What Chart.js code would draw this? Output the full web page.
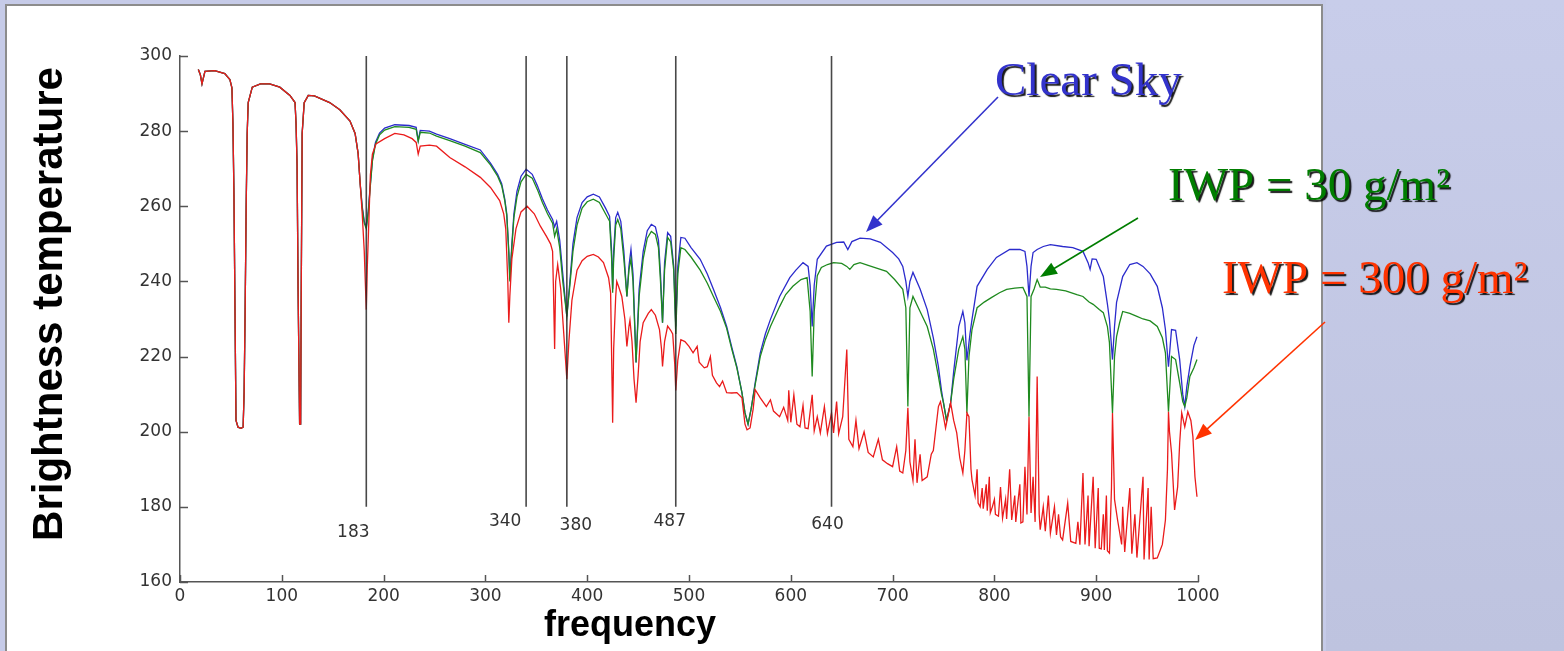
<!DOCTYPE html>
<html>
<head>
<meta charset="utf-8">
<script src="https://cdn.jsdelivr.net/npm/chart.js@4/dist/chart.umd.min.js"></script>
<style>
  html, body { margin: 0; padding: 0; }
  body { width: 1564px; height: 651px; background: #c6cbe8; position: relative; overflow: hidden; }
  #side { position: absolute; left: 1326px; top: 0; width: 238px; height: 651px;
          background: linear-gradient(#c8cdea, #bec3df); }
  #panel { position: absolute; left: 5px; top: 4px; width: 1318px; height: 660px;
           background: #fff; border: 2px solid #8c8c8c; box-sizing: border-box; }
  #chart { position: absolute; left: 0; top: 0; }
</style>
</head>
<body>
<div id="side"></div>
<div id="panel"></div>
<canvas id="chart" width="1564" height="651"></canvas>
<script>
// part of the spectrum where all three curves lie on top of each other
const sharedFreq = [18, 20, 21.6, 24.5, 34, 44, 49, 51, 52, 53, 54, 55, 57, 60, 62, 63, 64, 65, 66, 67, 71, 79, 88, 98,
  108, 113, 114, 115, 116, 117.5, 118.5, 119, 120, 122, 126, 132, 147, 157, 167, 172, 175, 177];
const sharedTb = [296.4, 295, 292.6, 295.9, 296.1, 295.3, 293.7, 291.5, 282, 263, 233, 203, 201.2, 200.9, 201.2, 210.6, 232.6, 260, 279.4, 287.6, 291.7, 292.6, 292.6, 291.7,
  289.5, 287.6, 282, 271, 238, 202, 202, 232.6, 279.4, 287.6, 289.5, 289.4, 287.6, 285.7, 282.7, 279.4, 274, 266];

// clear sky
const clearFreq = [179, 181, 183, 185, 187, 189, 192, 196, 201, 211, 225, 232, 234, 236, 245, 252, 265, 280, 295, 305,
  312, 316, 319, 321, 323, 324, 326, 328, 331, 335, 340, 346, 351, 356, 361, 366, 368, 370, 373, 376,
  380, 383, 386, 390, 395, 400, 406, 412, 418, 422, 424, 425, 426, 428, 430, 433, 436, 439, 441, 443,
  445, 448, 451, 455, 459, 463, 467, 470, 472, 474, 476, 479, 482, 485, 487, 489, 492, 496, 502, 511,
  518, 524, 531, 537, 542, 547, 552, 555, 558, 561, 565, 570, 575, 580, 589, 599, 605, 612, 617, 619,
  621, 623, 626, 635, 645, 652, 656, 660, 668, 678, 688, 700, 706, 710, 713, 715, 717, 720, 727, 734,
  740, 745, 748, 750, 753, 757, 760, 765, 769, 771, 773, 776, 778, 783, 793, 802, 815, 825, 830, 832,
  834, 836, 838, 842, 848, 855, 867, 877, 887, 892, 894, 896, 900, 907, 911, 913, 916, 918, 920, 926,
  933, 940, 946, 953, 960, 965, 968, 971, 974, 978, 982, 985, 987, 989, 992, 996, 999];
const clearTb = [260, 256, 254.5, 259, 266, 272.5, 277, 279.5, 280.8, 281.7, 281.5, 281, 277.5, 280.2, 280, 279.2, 278, 276.5, 275, 271.5,
  268.5, 266, 262, 258, 248, 240.5, 250, 258, 264, 268, 269.9, 268.5, 265.5, 262, 259, 256.5, 254.5, 256, 251, 242,
  230.7, 240, 250, 257, 261, 262.5, 263.2, 262.5, 259.5, 257.3, 248, 238, 248, 257, 258.4, 256, 248, 236, 244, 248.5,
  242, 218.4, 238, 248, 253.5, 255.2, 254.5, 251, 242, 229, 245, 253, 252, 244, 228, 244, 251.7, 251.5, 249, 245.9,
  242, 237.9, 233, 228, 222.5, 217.3, 210.4, 205, 202, 206, 213, 221, 226, 229.9, 236, 241, 243, 245, 244, 239,
  228, 239, 245.9, 249.4, 250.4, 250.5, 248.5, 250.6, 251.5, 251.3, 250.4, 247.7, 246, 244, 240, 236, 240, 242.4, 238, 232.5,
  225, 217.3, 211, 207.7, 203, 207.7, 216, 228, 232, 229, 219, 226, 229.9, 238.7, 243.2, 246.4, 248.5, 248.5, 248, 244,
  236, 244, 247.7, 248.5, 249.3, 249.8, 249.3, 249, 248, 245, 243.2, 246, 245.9, 241.3, 234, 229.9, 219.2, 228, 234.4, 241.3,
  244.5, 245, 244, 242, 238.7, 233, 227.2, 217.3, 227.2, 227, 219.2, 210, 206.7, 212, 217.3, 223, 225.3];

// IWP = 30 g/m2
const iwp30Freq = [179, 181, 183, 185, 187, 189, 192, 196, 201, 211, 225, 232, 234, 236, 245, 252, 265, 280, 295, 305,
  312, 316, 319, 321, 323, 324, 326, 328, 331, 335, 340, 346, 351, 356, 361, 366, 368, 370, 373, 376,
  380, 383, 386, 390, 395, 400, 406, 412, 418, 422, 424, 425, 426, 428, 430, 433, 436, 439, 441, 443,
  445, 448, 451, 455, 459, 463, 467, 470, 472, 474, 476, 479, 482, 485, 487, 489, 492, 496, 502, 511,
  518, 524, 531, 537, 542, 547, 552, 555, 558, 561, 565, 570, 575, 580, 589, 595, 602, 610, 616, 619,
  621, 623, 626, 630, 636, 642, 650, 655, 658, 662, 668, 676, 685, 694, 702, 710, 713, 715, 717, 720,
  727, 734, 740, 745, 748, 750, 753, 757, 760, 765, 769, 771, 773, 775, 778, 783, 790, 797, 805, 812,
  820, 828, 832, 834, 836, 839, 842, 845, 850, 855, 861, 870, 881, 887, 893, 897, 903, 907, 911, 913,
  916, 918, 920, 923, 926, 933, 940, 946, 953, 960, 965, 968, 971, 974, 978, 982, 985, 987, 989, 992,
  996, 999];
const iwp30Tb = [259.5, 255.5, 254, 258.5, 265.5, 272, 276.5, 279, 280.3, 281.2, 281, 280.5, 277.3, 279.7, 279.5, 278.7, 277.5, 276, 274.3, 271,
  268, 265.5, 261.5, 257.5, 247.5, 240, 249, 257, 262.5, 266.5, 268.5, 267.5, 264.5, 261, 258, 255.5, 252, 254, 249, 240,
  230.7, 239, 248, 255, 259.5, 261.2, 261.9, 261, 258, 256, 246, 237, 246, 255, 256.5, 254, 246, 236, 243, 246,
  240, 218.4, 236, 246, 251.5, 253.3, 252.5, 249, 240, 229, 243, 251.7, 250.5, 243, 226, 242, 249, 248.5, 246.5, 243,
  239.5, 236, 232, 227.5, 222, 217, 210.4, 205, 202, 206, 212.5, 220, 224.5, 228, 233.3, 236.5, 238.7, 240.5, 241, 232,
  214.7, 232, 241.5, 243.7, 244.5, 245, 244.8, 244, 243.2, 244.5, 245, 244.3, 243.5, 242.7, 240.5, 237.9, 233, 206.7, 233, 236,
  232, 228, 222, 214.7, 210, 207.7, 203, 207.7, 214, 222, 225.3, 222, 205, 220, 227.2, 233, 234.5, 235.7, 237, 237.9,
  238.2, 238.4, 236, 204, 236, 238, 240.5, 238.5, 238.5, 238, 237.9, 237.5, 236.5, 236, 234.5, 233.9, 232.5, 231.7, 228, 223.7,
  205, 220, 225.3, 229, 232, 231.5, 230.7, 230, 229.5, 228, 225, 221, 205.3, 220, 219.2, 213, 208, 206.7, 209, 214.7,
  217, 219.2];

// IWP = 300 g/m2
const iwp300Freq = [
  179, 181, 182, 183, 184, 185, 187, 189, 192.5, 201,
  211, 220, 228, 232, 234, 236, 245, 252, 265, 280,
  295, 305, 314, 318, 320, 322, 323, 324, 326, 330,
  335, 341, 348, 354, 360, 364, 366, 367, 368, 369,
  371, 374, 377, 380, 382, 385, 390, 395, 400, 406,
  411, 416, 421, 423, 424, 425, 426, 428, 429, 431,
  434, 437, 439, 441, 442, 444, 446, 448, 450, 452,
  455, 460, 463, 467, 471, 473, 474, 476, 479, 482,
  484, 486, 487, 489, 492, 496, 500, 504, 508, 510,
  515, 518, 521, 523, 527, 530, 533, 537, 542, 547,
  552, 555, 557, 560, 563, 565, 570, 576, 580, 583,
  589, 593, 597, 598, 600, 603, 606, 609, 612, 614,
  617, 621, 623, 626, 629, 633, 636, 640, 642, 645,
  647, 651, 655, 657, 661, 664, 667, 672, 676, 681,
  686, 690, 695, 700, 704, 707, 710, 713, 715, 717,
  720, 722, 724, 727, 729, 734, 738, 740, 745, 747,
  750, 752, 755, 757, 760, 763, 766, 769, 771,
  773, 775, 777, 778, 781, 783, 784, 786, 788, 789,
  792, 793, 795, 796, 798, 800, 801, 804, 806, 808,
  811, 812, 815, 817, 820, 821, 825, 826, 828, 830,
  832, 834, 836, 838, 840, 842, 844, 845, 848, 850,
  853, 855, 859, 861, 863, 865, 867, 872, 875, 880,
  882, 884, 887, 889, 892, 893, 897, 899, 902, 903,
  905, 907, 908, 910, 911, 913, 915, 916, 918, 921,
  925, 926, 928, 933, 935, 938, 940, 946, 947, 951,
  952, 954, 956, 960, 965, 968, 970, 971, 972, 974,
  977, 980, 982, 984, 987, 990, 993, 995, 997, 999];
const iwp300Tb = [
  258, 248, 240, 232.5, 244, 251.8, 268.3, 273.9, 276.6, 278,
  279.4, 279, 278, 277, 273.9, 276, 276.3, 276, 273, 270.5,
  267.7, 265, 261.5, 258, 254, 240, 229, 236, 246, 254,
  258.5, 260, 258, 254.7, 252, 250, 248, 236, 222, 240,
  244.5, 238, 226, 214, 224, 235, 243, 245.5, 246.7, 247.2,
  246.5, 245, 241, 237, 220, 202.4, 222, 236, 240, 238.5,
  236, 230, 222.7, 228, 229.7, 224, 214, 207.7, 215, 224,
  229, 231.5, 232.5, 231, 227.2, 222, 217.4, 224, 228.1, 227,
  226, 218, 211, 219, 224.5, 224, 222.7, 221, 222.7, 218.5,
  217, 217.3, 220, 215, 213, 212, 213.5, 210.4, 210.3, 210.4,
  209, 202, 200.5, 201, 206, 211.2, 209, 206.7, 208.5, 205.5,
  204, 206.5, 203, 211, 202.5, 209.8, 202, 201.3, 207, 201,
  200.8, 209.8, 200.2, 204, 199.7, 206.7, 199.5, 205, 199.7, 208,
  199.5, 204, 221.9, 198, 196, 203, 195.5, 200, 194.5, 193.3,
  198, 192.5, 191.5, 190.7, 196, 189.5, 189, 195, 206.4, 192,
  187, 198, 186.4, 194, 187, 188, 194, 195, 206.7, 208,
  204, 201, 205, 207.7, 203, 199.7, 193, 189, 195,
  205, 204, 190, 187.2, 183, 190, 181, 180, 185, 179.5,
  186, 179, 188, 178.4, 180, 182, 178, 177.5, 185.3, 177,
  182, 176.8, 190, 176.5, 183, 176, 186, 175.7, 176, 190.7,
  178, 204, 178.4, 188, 176, 214.7, 178, 173.9, 180, 173.5,
  183, 173, 180, 172.5, 178, 172, 171.2, 181, 170.8, 170.3,
  176, 169.9, 189, 170, 183, 169.5, 188, 169, 185, 169,
  168.8, 178, 168.5, 183, 168.3, 167.7, 185, 205, 182, 176.5,
  170, 180, 168, 185, 167.5, 178, 166.5, 188, 166, 185,
  166, 180, 166.2, 166.4, 170, 176.5, 190, 205.3, 200, 194.4,
  179.2, 185.3, 197, 205, 201.3, 205.3, 203, 198.7, 188, 182.7];

// marked channels (vertical lines)
const channelFreq = [183, 340, 380, 487, 640];
const channelLabels = ['183', '340', '380', '487', '640'];

function toPoints(freq, tb) {
    return freq.map((f, i) => ({ x: f, y: tb[i] }));
}
const sharedPts = toPoints(sharedFreq, sharedTb);

const FONT_TICK = 'DejaVu Sans, sans-serif';

// inward tick marks, channel lines, axis titles and text annotations
const extras = {
    id: 'extras',
    afterDatasetsDraw(chart, args, opts) {
        const ctx = chart.ctx;
        const xs = chart.scales.x, ys = chart.scales.y;
        ctx.save();
        ctx.strokeStyle = '#555';
        ctx.lineWidth = 1.5;
        ys.ticks.forEach(t => {
            const py = Math.round(ys.getPixelForValue(t.value)) + 0.5;
            ctx.beginPath(); ctx.moveTo(xs.left, py); ctx.lineTo(xs.left + 8, py); ctx.stroke();
        });
        xs.ticks.forEach(t => {
            const px = Math.round(xs.getPixelForValue(t.value)) + 0.5;
            ctx.beginPath(); ctx.moveTo(px, ys.bottom); ctx.lineTo(px, ys.bottom - 7); ctx.stroke();
        });

        // channel lines
        ctx.strokeStyle = 'rgba(40,40,40,0.85)';
        ctx.lineWidth = 1.6;
        ctx.fillStyle = '#333';
        ctx.font = '17px ' + FONT_TICK;
        ctx.textAlign = 'center';
        ctx.textBaseline = 'middle';
        channelFreq.forEach((f, i) => {
            const px = xs.getPixelForValue(f);
            const yb = ys.getPixelForValue(180);
            ctx.beginPath(); ctx.moveTo(px, ys.getPixelForValue(300)); ctx.lineTo(px, yb); ctx.stroke();
            const off = opts.labelOffsets[i];
            ctx.fillText(channelLabels[i], px + off[0], yb + off[1]);
        });
        ctx.restore();
    },
    afterDraw(chart, args, opts) {
        const ctx = chart.ctx;
        ctx.save();
        // axis titles
        ctx.fillStyle = '#000';
        ctx.font = 'bold 36px "Liberation Sans", Arial, sans-serif';
        ctx.textAlign = 'center';
        ctx.textBaseline = 'alphabetic';
        ctx.fillText('frequency', 630, 636);
        ctx.save();
        ctx.translate(62, 304);
        ctx.rotate(-Math.PI / 2);
        ctx.font = 'bold 42px "Liberation Sans", Arial, sans-serif';
        ctx.fillText('Brightness temperature', 0, 0);
        ctx.restore();

        // annotations with arrows
        opts.notes.forEach(n => {
            ctx.strokeStyle = n.color;
            ctx.fillStyle = n.color;
            ctx.lineWidth = 1.6;
            const [x1, y1, x2, y2] = n.arrow;
            const a = Math.atan2(y2 - y1, x2 - x1);
            const len = 17, w = 6.5;
            ctx.beginPath(); ctx.moveTo(x1, y1);
            ctx.lineTo(x2 - Math.cos(a) * len * 0.8, y2 - Math.sin(a) * len * 0.8); ctx.stroke();
            ctx.beginPath();
            ctx.moveTo(x2, y2);
            ctx.lineTo(x2 - Math.cos(a) * len - Math.sin(a) * w, y2 - Math.sin(a) * len + Math.cos(a) * w);
            ctx.lineTo(x2 - Math.cos(a) * len + Math.sin(a) * w, y2 - Math.sin(a) * len - Math.cos(a) * w);
            ctx.closePath(); ctx.fill();

            ctx.save();
            ctx.font = '47px "Liberation Serif", "Times New Roman", serif';
            ctx.textAlign = 'left';
            ctx.shadowColor = 'rgba(0,0,0,0.9)';
            ctx.shadowOffsetX = 2;
            ctx.shadowOffsetY = 2;
            ctx.shadowBlur = 1;
            ctx.fillText(n.text, n.x, n.y);
            ctx.restore();
        });
        ctx.restore();
    }
};

new Chart(document.getElementById('chart'), {
    type: 'line',
    data: {
        datasets: [
            {
                label: 'IWP = 300 g/m²',
                data: sharedPts.concat(toPoints(iwp300Freq, iwp300Tb)),
                borderColor: '#ea1b1b',
                borderWidth: 1.3
            },
            {
                label: 'IWP = 30 g/m²',
                data: sharedPts.concat(toPoints(iwp30Freq, iwp30Tb)),
                borderColor: '#1f8a1f',
                borderWidth: 1.3
            },
            {
                label: 'Clear Sky',
                data: sharedPts.concat(toPoints(clearFreq, clearTb)),
                borderColor: '#2b2bcc',
                borderWidth: 1.3
            }
        ]
    },
    options: {
        responsive: false,
        animation: false,
        events: [],
        elements: { point: { radius: 0 }, line: { tension: 0 } },
        layout: { padding: { left: 5, top: 56, right: 366, bottom: 0 } },
        scales: {
            x: {
                type: 'linear',
                min: 0, max: 1000,
                afterFit(scale) { scale.height = 69; },
                grid: { display: false, drawTicks: false },
                border: { display: true, color: '#555', width: 1.5 },
                ticks: { stepSize: 100, padding: 4, color: '#333', font: { family: FONT_TICK, size: 17 },
                         callback: v => String(v) }
            },
            y: {
                min: 160, max: 300,
                afterFit(scale) { scale.width = 175; },
                grid: { display: false, drawTicks: false },
                border: { display: true, color: '#555', width: 1.5 },
                ticks: { stepSize: 20, padding: 8, color: '#333', font: { family: FONT_TICK, size: 17 } }
            }
        },
        plugins: {
            legend: { display: false },
            tooltip: { enabled: false },
            extras: {
                labelOffsets: [[-13, 26], [-21, 15], [9, 19], [-6, 15], [-4, 18]],
                notes: [
                    { text: 'Clear Sky', x: 995, y: 95, color: '#3333cc', arrow: [998, 97, 866, 232] },
                    { text: 'IWP = 30 g/m²', x: 1168, y: 200, color: '#007d00', arrow: [1138, 218, 1040, 277] },
                    { text: 'IWP = 300 g/m²', x: 1222, y: 293, color: '#ff3300', arrow: [1325, 322, 1195, 440] }
                ]
            }
        }
    },
    plugins: [extras]
});
</script>
</body>
</html>
